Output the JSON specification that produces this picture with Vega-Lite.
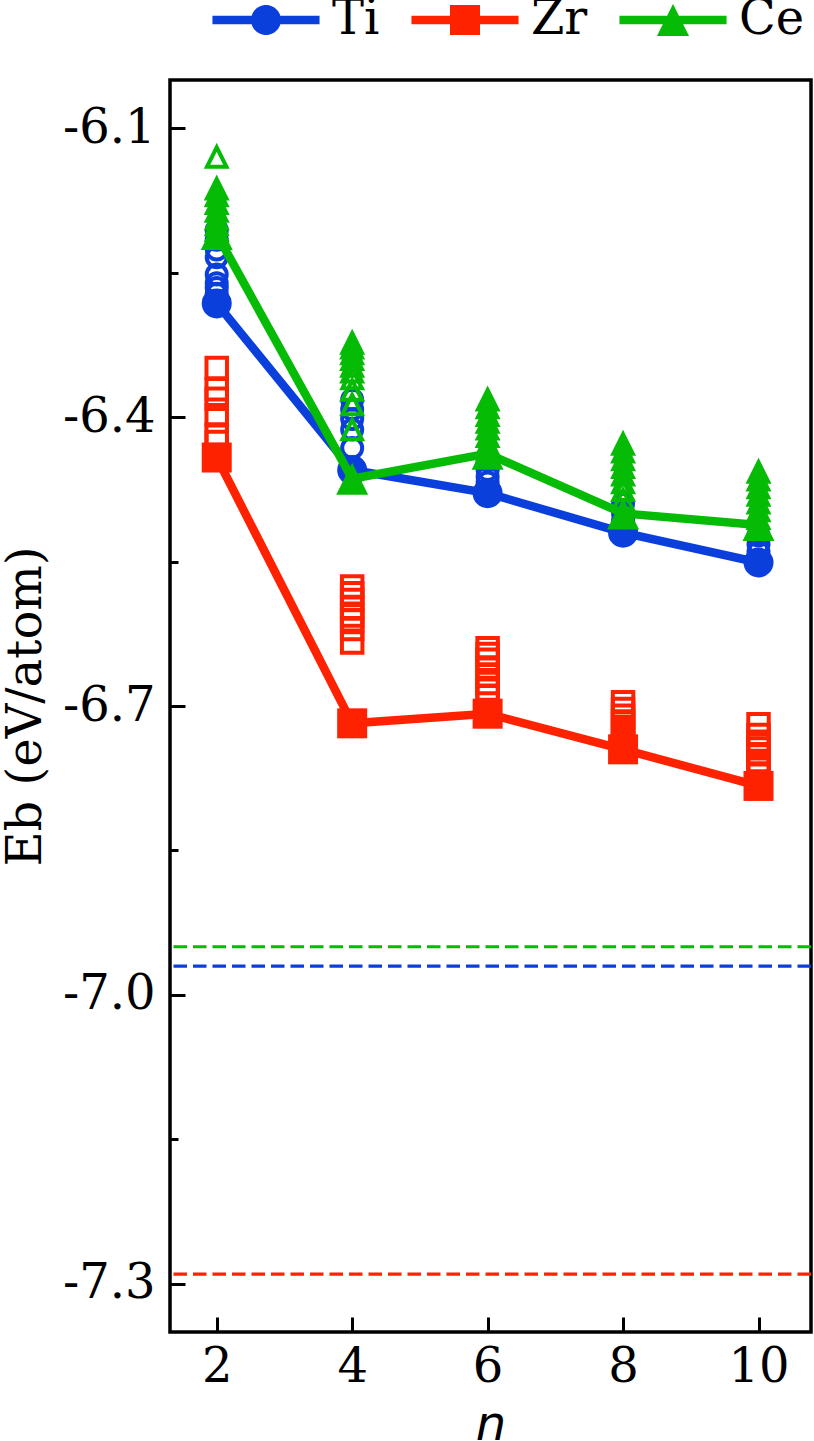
{
  "$schema": "https://vega.github.io/schema/vega-lite/v6.json",
  "width": 641,
  "height": 1252,
  "autosize": "none",
  "padding": {"left": 170, "top": 80, "right": 3, "bottom": 109},
  "background": "white",
  "config": {
    "view": {"stroke": "black", "strokeWidth": 3.5},
    "axis": {
      "domain": false,
      "grid": false,
      "labelFont": "DejaVu Serif",
      "labelFontSize": 48,
      "labelColor": "black",
      "labelOverlap": false,
      "labelFlush": false,
      "labelBound": false,
      "tickColor": "black",
      "tickWidth": 3,
      "titleFont": "DejaVu Serif",
      "titleFontSize": 48,
      "titleFontWeight": "normal",
      "titleColor": "black"
    }
  },
  "datasets": {
    "points": [
      {"metal": "Ti", "n": 2, "Eb": -6.282, "state": "lowest"},
      {"metal": "Ti", "n": 2, "Eb": -6.206, "state": "other"},
      {"metal": "Ti", "n": 2, "Eb": -6.216, "state": "other"},
      {"metal": "Ti", "n": 2, "Eb": -6.226, "state": "other"},
      {"metal": "Ti", "n": 2, "Eb": -6.234, "state": "other"},
      {"metal": "Ti", "n": 2, "Eb": -6.252, "state": "other"},
      {"metal": "Ti", "n": 2, "Eb": -6.261, "state": "other"},
      {"metal": "Ti", "n": 2, "Eb": -6.266, "state": "other"},
      {"metal": "Ti", "n": 2, "Eb": -6.272, "state": "other"},
      {"metal": "Ti", "n": 4, "Eb": -6.455, "state": "lowest"},
      {"metal": "Ti", "n": 4, "Eb": -6.382, "state": "other"},
      {"metal": "Ti", "n": 4, "Eb": -6.392, "state": "other"},
      {"metal": "Ti", "n": 4, "Eb": -6.402, "state": "other"},
      {"metal": "Ti", "n": 4, "Eb": -6.413, "state": "other"},
      {"metal": "Ti", "n": 4, "Eb": -6.432, "state": "other"},
      {"metal": "Ti", "n": 6, "Eb": -6.479, "state": "lowest"},
      {"metal": "Ti", "n": 6, "Eb": -6.445, "state": "other"},
      {"metal": "Ti", "n": 6, "Eb": -6.455, "state": "other"},
      {"metal": "Ti", "n": 6, "Eb": -6.462, "state": "other"},
      {"metal": "Ti", "n": 6, "Eb": -6.468, "state": "other"},
      {"metal": "Ti", "n": 8, "Eb": -6.520, "state": "lowest"},
      {"metal": "Ti", "n": 8, "Eb": -6.490, "state": "other"},
      {"metal": "Ti", "n": 8, "Eb": -6.500, "state": "other"},
      {"metal": "Ti", "n": 8, "Eb": -6.508, "state": "other"},
      {"metal": "Ti", "n": 10, "Eb": -6.551, "state": "lowest"},
      {"metal": "Ti", "n": 10, "Eb": -6.523, "state": "other"},
      {"metal": "Ti", "n": 10, "Eb": -6.532, "state": "other"},
      {"metal": "Ti", "n": 10, "Eb": -6.540, "state": "other"},
      {"metal": "Zr", "n": 2, "Eb": -6.442, "state": "lowest"},
      {"metal": "Zr", "n": 2, "Eb": -6.349, "state": "other"},
      {"metal": "Zr", "n": 2, "Eb": -6.371, "state": "other"},
      {"metal": "Zr", "n": 2, "Eb": -6.381, "state": "other"},
      {"metal": "Zr", "n": 2, "Eb": -6.398, "state": "other"},
      {"metal": "Zr", "n": 2, "Eb": -6.418, "state": "other"},
      {"metal": "Zr", "n": 2, "Eb": -6.426, "state": "other"},
      {"metal": "Zr", "n": 4, "Eb": -6.718, "state": "lowest"},
      {"metal": "Zr", "n": 4, "Eb": -6.576, "state": "other"},
      {"metal": "Zr", "n": 4, "Eb": -6.583, "state": "other"},
      {"metal": "Zr", "n": 4, "Eb": -6.590, "state": "other"},
      {"metal": "Zr", "n": 4, "Eb": -6.598, "state": "other"},
      {"metal": "Zr", "n": 4, "Eb": -6.606, "state": "other"},
      {"metal": "Zr", "n": 4, "Eb": -6.611, "state": "other"},
      {"metal": "Zr", "n": 4, "Eb": -6.620, "state": "other"},
      {"metal": "Zr", "n": 4, "Eb": -6.634, "state": "other"},
      {"metal": "Zr", "n": 6, "Eb": -6.708, "state": "lowest"},
      {"metal": "Zr", "n": 6, "Eb": -6.640, "state": "other"},
      {"metal": "Zr", "n": 6, "Eb": -6.646, "state": "other"},
      {"metal": "Zr", "n": 6, "Eb": -6.652, "state": "other"},
      {"metal": "Zr", "n": 6, "Eb": -6.660, "state": "other"},
      {"metal": "Zr", "n": 6, "Eb": -6.668, "state": "other"},
      {"metal": "Zr", "n": 6, "Eb": -6.676, "state": "other"},
      {"metal": "Zr", "n": 6, "Eb": -6.683, "state": "other"},
      {"metal": "Zr", "n": 6, "Eb": -6.690, "state": "other"},
      {"metal": "Zr", "n": 8, "Eb": -6.745, "state": "lowest"},
      {"metal": "Zr", "n": 8, "Eb": -6.696, "state": "other"},
      {"metal": "Zr", "n": 8, "Eb": -6.703, "state": "other"},
      {"metal": "Zr", "n": 8, "Eb": -6.710, "state": "other"},
      {"metal": "Zr", "n": 8, "Eb": -6.716, "state": "other"},
      {"metal": "Zr", "n": 8, "Eb": -6.722, "state": "other"},
      {"metal": "Zr", "n": 8, "Eb": -6.728, "state": "other"},
      {"metal": "Zr", "n": 8, "Eb": -6.734, "state": "other"},
      {"metal": "Zr", "n": 8, "Eb": -6.740, "state": "other"},
      {"metal": "Zr", "n": 10, "Eb": -6.783, "state": "lowest"},
      {"metal": "Zr", "n": 10, "Eb": -6.719, "state": "other"},
      {"metal": "Zr", "n": 10, "Eb": -6.730, "state": "other"},
      {"metal": "Zr", "n": 10, "Eb": -6.737, "state": "other"},
      {"metal": "Zr", "n": 10, "Eb": -6.744, "state": "other"},
      {"metal": "Zr", "n": 10, "Eb": -6.750, "state": "other"},
      {"metal": "Zr", "n": 10, "Eb": -6.757, "state": "other"},
      {"metal": "Zr", "n": 10, "Eb": -6.762, "state": "other"},
      {"metal": "Zr", "n": 10, "Eb": -6.770, "state": "other"},
      {"metal": "Ce", "n": 2, "Eb": -6.210, "state": "lowest"},
      {"metal": "Ce", "n": 2, "Eb": -6.130, "state": "other"},
      {"metal": "Ce", "n": 2, "Eb": -6.163, "state": "other"},
      {"metal": "Ce", "n": 2, "Eb": -6.170, "state": "other"},
      {"metal": "Ce", "n": 2, "Eb": -6.178, "state": "other"},
      {"metal": "Ce", "n": 2, "Eb": -6.186, "state": "other"},
      {"metal": "Ce", "n": 2, "Eb": -6.194, "state": "other"},
      {"metal": "Ce", "n": 2, "Eb": -6.200, "state": "other"},
      {"metal": "Ce", "n": 2, "Eb": -6.206, "state": "other"},
      {"metal": "Ce", "n": 4, "Eb": -6.464, "state": "lowest"},
      {"metal": "Ce", "n": 4, "Eb": -6.323, "state": "other"},
      {"metal": "Ce", "n": 4, "Eb": -6.328, "state": "other"},
      {"metal": "Ce", "n": 4, "Eb": -6.334, "state": "other"},
      {"metal": "Ce", "n": 4, "Eb": -6.340, "state": "other"},
      {"metal": "Ce", "n": 4, "Eb": -6.347, "state": "other"},
      {"metal": "Ce", "n": 4, "Eb": -6.353, "state": "other"},
      {"metal": "Ce", "n": 4, "Eb": -6.360, "state": "other"},
      {"metal": "Ce", "n": 4, "Eb": -6.372, "state": "other"},
      {"metal": "Ce", "n": 4, "Eb": -6.387, "state": "other"},
      {"metal": "Ce", "n": 4, "Eb": -6.413, "state": "other"},
      {"metal": "Ce", "n": 6, "Eb": -6.438, "state": "lowest"},
      {"metal": "Ce", "n": 6, "Eb": -6.382, "state": "other"},
      {"metal": "Ce", "n": 6, "Eb": -6.390, "state": "other"},
      {"metal": "Ce", "n": 6, "Eb": -6.398, "state": "other"},
      {"metal": "Ce", "n": 6, "Eb": -6.405, "state": "other"},
      {"metal": "Ce", "n": 6, "Eb": -6.412, "state": "other"},
      {"metal": "Ce", "n": 6, "Eb": -6.420, "state": "other"},
      {"metal": "Ce", "n": 6, "Eb": -6.428, "state": "other"},
      {"metal": "Ce", "n": 6, "Eb": -6.436, "state": "other"},
      {"metal": "Ce", "n": 8, "Eb": -6.500, "state": "lowest"},
      {"metal": "Ce", "n": 8, "Eb": -6.428, "state": "other"},
      {"metal": "Ce", "n": 8, "Eb": -6.436, "state": "other"},
      {"metal": "Ce", "n": 8, "Eb": -6.444, "state": "other"},
      {"metal": "Ce", "n": 8, "Eb": -6.452, "state": "other"},
      {"metal": "Ce", "n": 8, "Eb": -6.460, "state": "other"},
      {"metal": "Ce", "n": 8, "Eb": -6.468, "state": "other"},
      {"metal": "Ce", "n": 8, "Eb": -6.476, "state": "other"},
      {"metal": "Ce", "n": 8, "Eb": -6.486, "state": "other"},
      {"metal": "Ce", "n": 10, "Eb": -6.512, "state": "lowest"},
      {"metal": "Ce", "n": 10, "Eb": -6.457, "state": "other"},
      {"metal": "Ce", "n": 10, "Eb": -6.465, "state": "other"},
      {"metal": "Ce", "n": 10, "Eb": -6.473, "state": "other"},
      {"metal": "Ce", "n": 10, "Eb": -6.481, "state": "other"},
      {"metal": "Ce", "n": 10, "Eb": -6.489, "state": "other"},
      {"metal": "Ce", "n": 10, "Eb": -6.497, "state": "other"},
      {"metal": "Ce", "n": 10, "Eb": -6.505, "state": "other"}
    ],
    "refs": [
      {"metal": "Ti", "Eb": -6.97},
      {"metal": "Zr", "Eb": -7.29},
      {"metal": "Ce", "Eb": -6.95}
    ]
  },
  "layer": [
    {
      "data": {"name": "refs"},
      "transform": [{"filter": "datum.metal === 'Ti'"}],
      "mark": {"type": "rule", "color": "#0a3fdc", "strokeWidth": 3.2, "strokeDash": [13.5, 6]},
      "encoding": {
        "y": {
          "field": "Eb", "type": "quantitative",
          "scale": {"domain": [-7.35, -6.05], "nice": false, "zero": false},
          "axis": {
            "title": "Eb (eV/atom)",
            "titlePadding": 12,
            "values": [-7.3, -7.15, -7.0, -6.85, -6.7, -6.55, -6.4, -6.25, -6.1],
            "tickSize": {"condition": {"test": "abs((datum.value + 7.3) / 0.3 - round((datum.value + 7.3) / 0.3)) < 0.1", "value": -15}, "value": -8},
            "labelPadding": 30,
            "labelExpr": "abs((datum.value + 7.3) / 0.3 - round((datum.value + 7.3) / 0.3)) < 0.1 ? '-' + format(-datum.value, '.1f') : ''"
          }
        }
      }
    },
    {
      "data": {"name": "refs"},
      "transform": [{"filter": "datum.metal === 'Zr'"}],
      "mark": {"type": "rule", "color": "#ff2200", "strokeWidth": 3.2, "strokeDash": [13.5, 6]},
      "encoding": {"y": {"field": "Eb", "type": "quantitative"}}
    },
    {
      "data": {"name": "refs"},
      "transform": [{"filter": "datum.metal === 'Ce'"}],
      "mark": {"type": "rule", "color": "#05bb05", "strokeWidth": 3.2, "strokeDash": [13.5, 6]},
      "encoding": {"y": {"field": "Eb", "type": "quantitative"}}
    },
    {
      "data": {"name": "points"},
      "transform": [{"filter": "datum.metal === 'Ti' && datum.state === 'other'"}],
      "mark": {"type": "point", "shape": "circle", "filled": false, "size": 400, "strokeWidth": 4, "color": "#0a3fdc", "opacity": 1},
      "encoding": {
        "x": {
          "field": "n", "type": "quantitative",
          "scale": {"domain": [1.31, 10.775], "nice": false, "zero": false},
          "axis": {
            "title": "n",
            "titleFont": "DejaVu Sans",
            "titleFontStyle": "italic",
            "titlePadding": 10,
            "values": [2, 4, 6, 8, 10],
            "tickSize": -15,
            "labelPadding": 26,
            "format": "d"
          }
        },
        "y": {"field": "Eb", "type": "quantitative"}
      }
    },
    {
      "data": {"name": "points"},
      "transform": [{"filter": "datum.metal === 'Ti' && datum.state === 'lowest'"}],
      "mark": {"type": "line", "color": "#0a3fdc", "strokeWidth": 8.5},
      "encoding": {"x": {"field": "n", "type": "quantitative"}, "y": {"field": "Eb", "type": "quantitative"}}
    },
    {
      "data": {"name": "points"},
      "transform": [{"filter": "datum.metal === 'Ti' && datum.state === 'lowest'"}],
      "mark": {"type": "point", "shape": "circle", "filled": true, "size": 900, "strokeWidth": 0, "color": "#0a3fdc", "opacity": 1},
      "encoding": {"x": {"field": "n", "type": "quantitative"}, "y": {"field": "Eb", "type": "quantitative"}}
    },
    {
      "data": {"name": "points"},
      "transform": [{"filter": "datum.metal === 'Zr' && datum.state === 'other'"}],
      "mark": {"type": "point", "shape": "square", "filled": false, "size": 420, "strokeWidth": 4, "color": "#ff2200", "opacity": 1},
      "encoding": {"x": {"field": "n", "type": "quantitative"}, "y": {"field": "Eb", "type": "quantitative"}}
    },
    {
      "data": {"name": "points"},
      "transform": [{"filter": "datum.metal === 'Zr' && datum.state === 'lowest'"}],
      "mark": {"type": "line", "color": "#ff2200", "strokeWidth": 8.5},
      "encoding": {"x": {"field": "n", "type": "quantitative"}, "y": {"field": "Eb", "type": "quantitative"}}
    },
    {
      "data": {"name": "points"},
      "transform": [{"filter": "datum.metal === 'Zr' && datum.state === 'lowest'"}],
      "mark": {"type": "point", "shape": "square", "filled": true, "size": 900, "strokeWidth": 0, "color": "#ff2200", "opacity": 1},
      "encoding": {"x": {"field": "n", "type": "quantitative"}, "y": {"field": "Eb", "type": "quantitative"}}
    },
    {
      "data": {"name": "points"},
      "transform": [{"filter": "datum.metal === 'Ce' && datum.state === 'other'"}],
      "mark": {"type": "point", "shape": "M0,-1L1,1H-1Z", "filled": false, "size": 380, "strokeWidth": 4, "color": "#05bb05", "opacity": 1},
      "encoding": {"x": {"field": "n", "type": "quantitative"}, "y": {"field": "Eb", "type": "quantitative"}}
    },
    {
      "data": {"name": "points"},
      "transform": [{"filter": "datum.metal === 'Ce' && datum.state === 'lowest'"}],
      "mark": {"type": "line", "color": "#05bb05", "strokeWidth": 8.5},
      "encoding": {"x": {"field": "n", "type": "quantitative"}, "y": {"field": "Eb", "type": "quantitative"}}
    },
    {
      "data": {"name": "points"},
      "transform": [{"filter": "datum.metal === 'Ce' && datum.state === 'lowest'"}],
      "mark": {"type": "point", "shape": "M0,-1L1,1H-1Z", "filled": true, "size": 1024, "strokeWidth": 0, "color": "#05bb05", "opacity": 1},
      "encoding": {"x": {"field": "n", "type": "quantitative"}, "y": {"field": "Eb", "type": "quantitative"}}
    },
    {
      "data": {"name": "points"},
      "transform": [{"filter": "datum.state === 'lowest'"}],
      "mark": {"type": "point", "filled": true, "size": 900, "opacity": 0},
      "encoding": {
        "x": {"field": "n", "type": "quantitative"},
        "y": {"field": "Eb", "type": "quantitative"},
        "color": {
          "field": "metal", "type": "nominal",
          "scale": {"domain": ["Ti", "Zr", "Ce"], "range": ["#0a3fdc", "#ff2200", "#05bb05"]},
          "legend": {
            "title": null, "orient": "none", "legendX": 72, "legendY": -84, "direction": "horizontal",
            "labelFont": "DejaVu Serif", "labelFontSize": 48, "labelColor": "black", "labelOffset": 42,
            "columnPadding": 31, "padding": 0, "symbolSize": 900, "symbolOpacity": 1, "symbolStrokeWidth": 0
          }
        },
        "shape": {
          "field": "metal", "type": "nominal",
          "scale": {
            "domain": ["Ti", "Zr", "Ce"],
            "range": [
              "M-3.57,-0.29H3.57V0.29H-3.57Z M-1,0A1,1 0 1,1 1,0A1,1 0 1,1 -1,0Z",
              "M-3.57,-0.29H3.57V0.29H-3.57Z M-1,-1H1V1H-1Z",
              "M-3.57,-0.29H3.57V0.29H-3.57Z M0,-1.07L1.07,1.07H-1.07Z"
            ]
          },
          "legend": {
            "title": null, "orient": "none", "legendX": 72, "legendY": -84, "direction": "horizontal",
            "labelFont": "DejaVu Serif", "labelFontSize": 48, "labelColor": "black", "labelOffset": 42,
            "columnPadding": 31, "padding": 0, "symbolSize": 900, "symbolOpacity": 1, "symbolStrokeWidth": 0
          }
        }
      }
    }
  ]
}
